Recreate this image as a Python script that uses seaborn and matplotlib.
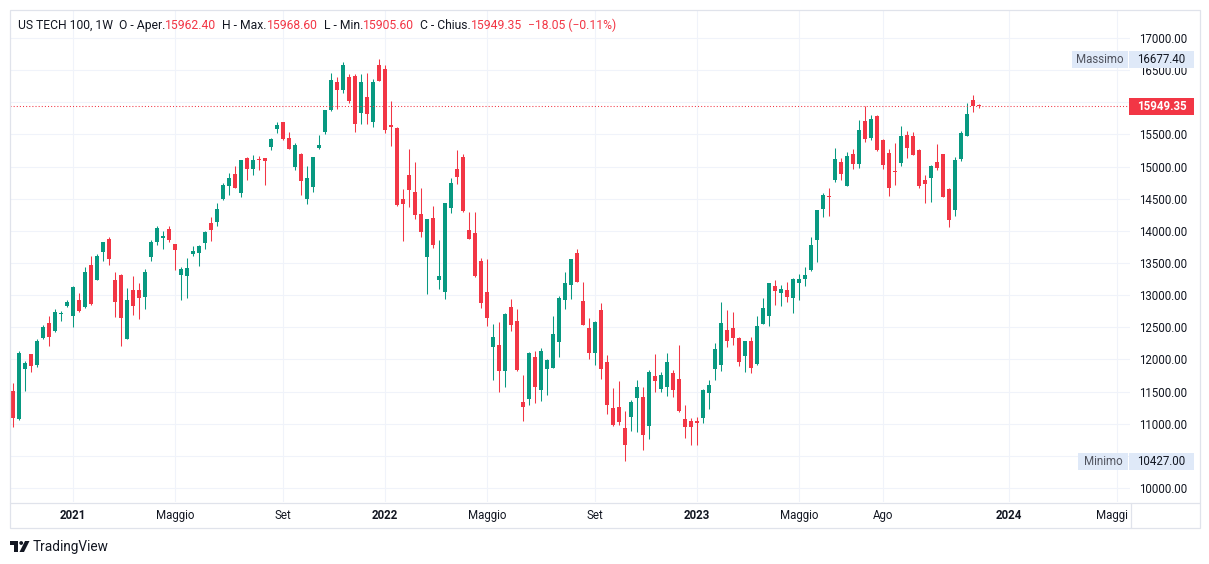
import matplotlib
matplotlib.use("Agg")
import matplotlib.pyplot as plt
import matplotlib.transforms as mtransforms
from matplotlib.patches import Rectangle, Polygon, Circle
import numpy as np
import pandas as pd
import seaborn as sns

# ---------------- data (weekly candles, first week = 26 Oct 2020) ----------------
opens = [11509, 11073, 11856, 12084, 11918, 12338, 12567, 12447, 12700, 12831,
         12680, 12924, 12820, 13469, 13240, 13676, 13873, 13236, 13313, 12322,
         13080, 13080, 12976, 13598, 13827, 13894, 14029, 13796, 13318, 13302,
         13645, 13660, 13816, 14122, 14143, 14500, 14702, 14884, 14594, 15133,
         14967, 15118, 15133, 15309, 15589, 15693, 15444, 14998, 15196, 14500,
         14687, 15294, 15543, 15880, 16316, 16196, 16393, 16409, 15838, 16082,
         15698, 16580, 16518, 15640, 15600, 14496, 14869, 14605, 14262, 13598,
         14200, 13240, 13054, 14360, 14962, 15149, 14013, 13967, 13531, 13049,
         12198, 12225, 11825, 12815, 12598, 11342, 11389, 12042, 11529, 11856,
         11871, 12276, 12929, 13163, 13656, 12909, 12489, 12104, 12769, 11960,
         11249, 11260, 10938, 11109, 11405, 11420, 10969, 11742, 11545, 11576,
         11789, 11696, 11073, 11042, 11042, 11094, 11482, 11856, 11918, 12458,
         12489, 12333, 12058, 12287, 11934, 12556, 12680, 13142, 13038, 13080,
         12960, 13194, 13256, 13396, 13862, 14345, 14540, 14796, 15071, 14703,
         15196, 15045, 15709, 15449, 15787, 15413, 15211, 14936, 15061, 15491,
         15476, 15258, 14796, 14827, 15076, 15196, 14656, 14329, 15123, 15480,
         16036, 15962.40]
highs = [11638, 12131, 11976, 12090, 12318, 12536, 12676, 12785, 12753, 12924,
         13142, 13033, 13438, 13609, 13640, 13830, 13904, 13360, 13329, 13111,
         13298, 13189, 13407, 13858, 14076, 13998, 14076, 13800, 13443, 13582,
         13765, 13785, 13998, 14216, 14433, 14744, 14900, 15009, 15110, 15149,
         15180, 15164, 15140, 15444, 15693, 15700, 15538, 15367, 15211, 15009,
         15150, 15491, 15885, 16456, 16393, 16627, 16440, 16440, 16440, 16456,
         16362, 16677.4, 16580, 16020, 15610, 14656, 15273, 15071, 14671, 14190,
         14387, 13858, 14440, 14822, 15258, 15196, 14293, 14293, 13578, 13562,
         12551, 12582, 12722, 12940, 12785, 11763, 12120, 12136, 12183, 12000,
         12680, 12991, 13360, 13565, 13718, 13204, 12644, 12598, 12878, 12069,
         11560, 11669, 11202, 11374, 11685, 11576, 11840, 12084, 11804, 12100,
         11836, 12225, 11296, 11089, 11109, 11535, 11680, 12251, 12893, 12769,
         12738, 12350, 12290, 12349, 12676, 12956, 13195, 13236, 13158, 13204,
         13267, 13329, 13438, 13904, 14330, 14589, 14667, 15289, 15133, 15227,
         15273, 15725, 15942, 15802, 15802, 15429, 15273, 15367, 15631, 15553,
         15538, 15273, 14874, 15029, 15356, 15200, 14660, 15154, 15558, 15994,
         16113, 15968.60]
lows = [10954, 11050, 11509, 11809, 11887, 12322, 12214, 12431, 12602, 12815,
        12509, 12740, 12800, 12851, 13230, 13536, 13474, 12665, 12214, 12310,
        12696, 12634, 12789, 13536, 13785, 13723, 13827, 13396, 12929, 12960,
        13614, 13458, 13723, 13847, 14080, 14485, 14563, 14660, 14531, 14796,
        14874, 14952, 14718, 15262, 15527, 15420, 15270, 14952, 14563, 14423,
        14609, 15278, 15512, 15865, 15896, 16149, 15989, 15543, 15667, 15667,
        15620, 16330, 15527, 15325, 14390, 13847, 14376, 14189, 13909, 13022,
        13738, 13100, 12945, 14283, 14734, 14300, 13870, 13290, 12805, 12525,
        11685, 11498, 11576, 12447, 11825, 11047, 11296, 11327, 11358, 11451,
        11860, 12042, 12789, 12945, 13200, 12530, 12011, 11918, 11700, 11156,
        10969, 10985, 10427, 10891, 10876, 10596, 10767, 11498, 11498, 11436,
        11420, 11187, 10782, 10674, 10674, 11016, 11234, 11685, 11825, 12198,
        12229, 11903, 11809, 11793, 11918, 12550, 12525, 12851, 12836, 12898,
        12727, 12929, 13147, 13380, 13520, 14220, 14236, 14765, 14796, 14700,
        14967, 14982, 15387, 15418, 15247, 14967, 14547, 14718, 15014, 15138,
        15180, 14671, 14438, 14454, 14952, 14520, 14065, 14236, 15092, 15475,
        15853, 15905.60]
closes = [11094, 12100, 11944, 11903, 12287, 12505, 12354, 12738, 12712, 12893,
          13127, 12758, 13360, 12867, 13609, 13827, 13567, 12898, 12649, 12924,
          12836, 12960, 13360, 13827, 14045, 13920, 13858, 13707, 13411, 13427,
          13691, 13769, 13982, 14018, 14340, 14713, 14822, 14671, 15102, 14967,
          15102, 15102, 15091, 15429, 15647, 15434, 15278, 15336, 14781, 14822,
          15149, 15336, 15880, 16347, 16196, 16580, 16020, 15667, 16316, 15822,
          16316, 16336, 15574, 15620, 14407, 14423, 14640, 14252, 13987, 14185,
          13785, 13298, 14433, 14744, 14843, 14314, 13878, 13302, 12883, 12649,
          12349, 11825, 12707, 12540, 11840, 11265, 12104, 11576, 12136, 11996,
          12400, 12960, 13189, 13562, 13209, 12540, 12104, 12582, 11856, 11296,
          10985, 11031, 10674, 11333, 11576, 10829, 11804, 11669, 11758, 11960,
          11529, 11202, 10954, 10954, 11016, 11529, 11602, 12162, 12567, 12291,
          12338, 11965, 12287, 11871, 12520, 12800, 13189, 13069, 13096, 12976,
          13251, 13251, 13313, 13780, 14325, 14558, 14532, 15118, 14890, 15164,
          15045, 15569, 15434, 15740, 15262, 15029, 14671, 14920, 15476, 15294,
          15185, 14703, 14734, 15014, 14982, 14531, 14174, 15107, 15527, 15822,
          15947, 15949.35]

tick_weeks = [10, 27, 45, 62, 79, 97, 114, 131, 145, 166, 184]
tick_labels = ["2021", "Maggio", "Set", "2022", "Maggio", "Set", "2023",
               "Maggio", "Ago", "2024", "Maggi"]
price_ticks = [10000, 10500, 11000, 11500, 12000, 12500, 13000, 13500,
               14000, 14500, 15000, 15500, 16000, 16500, 17000]
hidden_price_labels = [10500, 16000]   # covered by the min / last-price boxes

symbol = "US TECH 100, 1W"
change_abs = -18.05
change_pct = -0.11
max_price = 16677.40
min_price = 10427.00

# ---------------- style ----------------
sns.set_theme(style="white")
plt.rcParams["font.family"] = ["Roboto", "DejaVu Sans"]

UP = "#089981"
DOWN = "#f23645"
TXT = "#131722"
GRID = "#f0f3fa"
BORDER = "#e0e3eb"
FS = 8.3

df = pd.DataFrame({"open": opens, "high": highs, "low": lows, "close": closes})
df["week"] = np.arange(len(df))
df["up"] = df["close"] >= df["open"]
df["color"] = np.where(df["up"], UP, DOWN)
df["bottom"] = df[["open", "close"]].min(axis=1)
df["height"] = (df["close"] - df["open"]).abs().clip(lower=16)

W, H = 1209, 564
fig = plt.figure(figsize=(W / 100, H / 100), dpi=100)
fig.patch.set_facecolor("white")

ax = fig.add_axes([10 / W, 1 - 502 / H, 1120 / W, 492 / H])
ax.set_facecolor("white")
ax.set_xlim(-0.5, 186.17)
ax.set_ylim(9782.2, 17435.6)

# candles
ax.vlines(df["week"], df["low"], df["high"], colors=df["color"], linewidth=0.75, zorder=3)
ax.bar(df["week"], df["height"], bottom=df["bottom"], width=0.8,
       color=df["color"], linewidth=0, zorder=4)

# last price dotted line
last_close = closes[-1]
ax.axhline(last_close, color=DOWN, linewidth=0.75, linestyle=(0, (1, 2)), zorder=5)

# grid & ticks
ax.set_yticks(price_ticks)
ax.set_xticks(tick_weeks)
ax.grid(True, color=GRID, linewidth=0.8, zorder=0)
ax.set_axisbelow(True)
for s in ax.spines.values():
    s.set_visible(False)

ax.yaxis.tick_right()
ax.set_yticklabels(["" if v in hidden_price_labels else f"{v:.2f}" for v in price_ticks])
ax.tick_params(axis="y", length=0, pad=41, labelsize=FS, labelcolor=TXT)
for lab in ax.get_yticklabels():
    lab.set_ha("right")

ax.set_xticklabels(tick_labels)
ax.tick_params(axis="x", length=0, pad=5, labelsize=FS, labelcolor=TXT)
for lab in ax.get_xticklabels():
    if lab.get_text().isdigit():
        lab.set_fontweight("bold")
# the last (cut) month label sits a little left of its gridline
last_lab = ax.get_xticklabels()[-1]
last_lab.set_transform(last_lab.get_transform() +
                       mtransforms.ScaledTranslation(-0.05, 0, fig.dpi_scale_trans))

# ---------------- overlay (pixel coordinates) ----------------
ov = fig.add_axes([0, 0, 1, 1], zorder=10)
ov.set_xlim(0, W)
ov.set_ylim(H, 0)
ov.axis("off")
ov.patch.set_alpha(0)

# chart frame and separators
ov.add_patch(Rectangle((9.5, 9.5), 1190.5, 518.5, fill=False, ec=BORDER, lw=0.9))
ov.plot([9.5, 1200], [502.5, 502.5], color=BORDER, lw=0.9)
ov.plot([1130.5, 1130.5], [502.5, 528], color=BORDER, lw=0.9)

# header legend
o, h, l, c = opens[-1], highs[-1], lows[-1], closes[-1]
segments = [
    (symbol + "  O - Aper.", TXT), (f"{o:.2f}", DOWN),
    ("  H - Max.", TXT), (f"{h:.2f}", DOWN),
    ("  L - Min.", TXT), (f"{l:.2f}", DOWN),
    ("  C - Chius.", TXT), (f"{c:.2f}", DOWN),
    (f"  \u2212{abs(change_abs):.2f} (\u2212{abs(change_pct):.2f}%)", DOWN),
]
HFS = FS + 0.45
prev = ov.text(18, 29, segments[0][0], color=segments[0][1], fontsize=HFS,
               ha="left", va="baseline")
for txt, col in segments[1:]:
    prev = ov.annotate(txt, xy=(1, 0), xycoords=prev, ha="left", va="bottom",
                       color=col, fontsize=HFS)

# price axis labels (max / min / last)
blend = mtransforms.blended_transform_factory(ov.transData, ax.transData)
pp = (17435.6 - 9782.2) / 492.0  # price units per pixel
BOXC = "#dfe9f8"

def price_box(x0, w, price, fc, text, tcol, weight="normal", dy=0.0):
    yc = price - dy * pp
    ov.add_patch(Rectangle((x0, yc - 8.3 * pp), w, 16.6 * pp, transform=blend,
                           fc=fc, ec="none", zorder=11))
    ov.text(x0 + w / 2, yc, text, transform=blend, ha="center", va="center",
            color=tcol, fontsize=FS, fontweight=weight, zorder=12)

price_box(1072, 56, max_price, BOXC, "Massimo", "#50535e", dy=0.8)
price_box(1129, 65, max_price, BOXC, f"{max_price:.2f}", TXT, dy=0.8)
price_box(1078, 50, min_price, BOXC, "Minimo", "#50535e", dy=1.0)
price_box(1129, 65, min_price, BOXC, f"{min_price:.2f}", TXT, dy=1.0)
price_box(1129, 65, last_close, DOWN, f"{last_close:.2f}", "white", weight="bold", dy=1.2)

# TradingView logo + text
ov.add_patch(Polygon([(10, 541), (18, 541), (18, 552), (14, 552), (14, 545), (10, 545)],
                     closed=True, fc=TXT, ec="none"))
ov.add_patch(Circle((21.2, 543), 1.9, fc=TXT, ec="none"))
ov.add_patch(Polygon([(25, 541), (29.5, 541), (24, 552), (19.5, 552)],
                     closed=True, fc=TXT, ec="none"))
ov.text(33, 546.5, "TradingView", ha="left", va="center", color=TXT, fontsize=9.8)

fig.savefig("out.png", dpi=100, facecolor="white")
